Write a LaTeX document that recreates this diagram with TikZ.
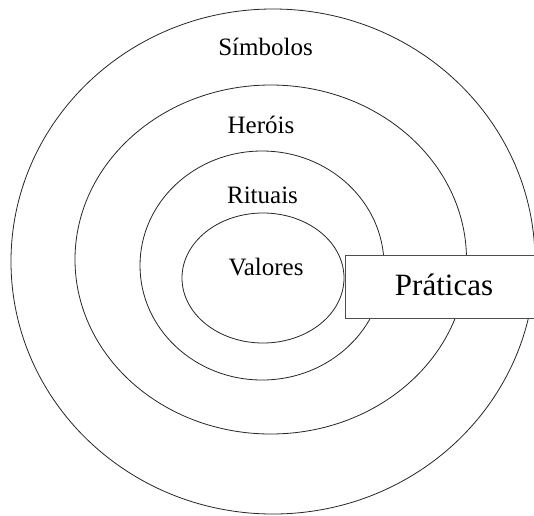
\documentclass[tikz,border=0pt]{standalone}
\usepackage{fontspec}
\setmainfont{Liberation Serif}
\usetikzlibrary{shapes.geometric}
\tikzset{
  ring/.style={ellipse, draw=black!85, line width=0.8pt, inner sep=0pt},
  ringlabel/.style={anchor=base, inner sep=0pt, font=\fontsize{25}{30}\selectfont},
  praticabox/.style={draw=black!70, line width=1pt, fill=white, inner sep=0pt, anchor=north west},
}
\begin{document}
\begin{tikzpicture}[x=1pt,y=-1pt]
  \useasboundingbox (0,0) rectangle (534,515);
  \clip (0,0) rectangle (534,515);
  \fill[white] (0,0) rectangle (534,515);
  % rings
  \node[ring, minimum width=524pt, minimum height=505pt] (simbolos) at (273,261.5) {};
  \node[ring, minimum width=391.5pt, minimum height=349pt] (herois) at (270.75,259.5) {};
  \node[ring, minimum width=244pt, minimum height=229pt] (rituais) at (262,265.5) {};
  \node[ring, minimum width=162pt, minimum height=130pt] (valores) at (263,278) {};
  % box
  \node[praticabox, minimum width=210pt, minimum height=63pt] (box) at (345,255) {};
  % labels
  \node[ringlabel] (tsim) at (265.5,55) {Símbolos};
  \node[ringlabel] (ther) at (261,133) {Heróis};
  \node[ringlabel] (trit) at (262.5,203) {Rituais};
  \node[ringlabel] (tval) at (266,275) {Valores};
  \node[anchor=base, inner sep=0pt, font=\fontsize{31}{36}\selectfont] (tpra) at (444,295) {Práticas};
\end{tikzpicture}
\end{document}
